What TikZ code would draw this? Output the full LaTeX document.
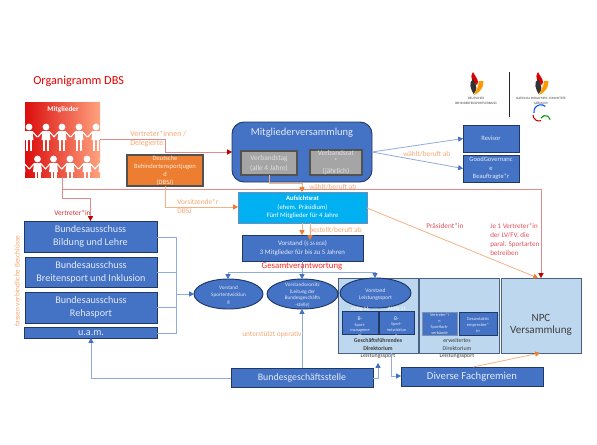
\documentclass[tikz,border=0pt]{standalone}
\usepackage{fontspec}
\setmainfont{Carlito}
\usetikzlibrary{arrows.meta,shapes.geometric,calc}
\definecolor{bl}{HTML}{4472C4}
\definecolor{dbl}{HTML}{1F3864}
\definecolor{lbl}{HTML}{BDD7EE}
\definecolor{lnb}{HTML}{8FAADC}
\definecolor{lnr}{HTML}{E48A8A}
\definecolor{tipr}{HTML}{C00000}
\definecolor{lno}{HTML}{F4B183}
\definecolor{tipo}{HTML}{ED7D31}
\definecolor{txo}{HTML}{F4A671}
\definecolor{txr}{HTML}{E0505A}
\definecolor{txw}{HTML}{E3EAF7}
\definecolor{gry}{HTML}{A5A5A5}
\definecolor{dgry}{HTML}{525252}
\definecolor{cya}{HTML}{00B0F0}
\definecolor{ora}{HTML}{ED7D31}
\newcommand{\fsz}[2]{\fontsize{#1}{#2}\selectfont}
\newcommand{\bxn}[7]{% style,name,x0,y0,x1,y1,text
  \pgfmathsetmacro{\cxx}{(#3+#5)/2}\pgfmathsetmacro{\cyy}{(#4+#6)/2}
  \pgfmathsetmacro{\wdd}{(#5-#3)*0.75}\pgfmathsetmacro{\htt}{(#6-#4)*0.75}
  \node[#1,minimum width=\wdd pt,minimum height=\htt pt] (#2) at (\cxx,\cyy) {#7};}
\newcommand{\txn}[5]{% style,name,x,y,text
  \node[inner sep=0pt,align=center,text=txw,#1] (#2) at (#3,#4) {#5};}
\newcommand{\doll}[3]{% x, y of head, leg bottom
  \fill[white] (#1,#2) circle (3.4);
  \fill[white] (#1-3.5,#2+4) -- (#1+3.5,#2+4) -- (#1+4.5,#2+13) -- (#1-4.5,#2+13) -- cycle;
  \fill[white] (#1-3,#2+13) rectangle (#1-0.9,#3);
  \fill[white] (#1+0.9,#2+13) rectangle (#1+3,#3);
  \draw[white,line width=0.9pt] (#1-3,#2+4.5) -- (#1-8.3,#2+10);
  \draw[white,line width=0.9pt] (#1+3,#2+4.5) -- (#1+8.3,#2+10);}
\newcommand{\flame}[2]{% x,y at centre
  \fill[red!85!black] (#1-3,#2-12) .. controls (#1-7,#2-5) and (#1-3,#2-3) .. (#1+1,#2+1) .. controls (#1+4,#2-3) and (#1+0,#2-6) .. (#1-3,#2-12) -- cycle;
  \fill[black!80] (#1-3,#2-5) .. controls (#1-8,#2-1) and (#1-5,#2+5) .. (#1-2.5,#2+10) .. controls (#1+1,#2+6) and (#1+2,#2+3) .. (#1-3,#2-5) -- cycle;
  \fill[orange!80!yellow] (#1+7.5,#2-3) .. controls (#1+8,#2+4) and (#1+3,#2+9) .. (#1-2,#2+11) .. controls (#1-0,#2+7) and (#1+3,#2+1) .. (#1+3,#2-3) .. controls (#1+4,#2-3) and (#1+6,#2-3) .. (#1+7.5,#2-3) -- cycle;}
\tikzset{
 x=0.75pt,y=-0.75pt,
 bb/.style={draw=dbl,fill=bl,line width=0.7pt,inner sep=0pt,outer sep=0pt,align=center,text=txw},
 bbl/.style={bb,font=\fsz{7.6}{9.75}},
 bbs/.style={bb,font=\fsz{4.9}{6.2}},
 gr/.style={draw=dgry,fill=gry,line width=0.8pt,inner sep=0pt,outer sep=0pt,align=center,text=white!88!black,font=\fsz{5.5}{7.5}},
 ell/.style={ellipse,bb},
 tiny/.style={font=\fsz{3.2}{4.1}},
 pan/.style={draw=dbl!80,fill=lbl,line width=0.7pt,inner sep=0pt,outer sep=0pt},
 lbo/.style={inner sep=0pt,text=txo,font=\fsz{5.5}{6.7},align=left},
 lbr/.style={inner sep=0pt,text=txr,font=\fsz{5.5}{6.7},align=left},
 dk/.style={inner sep=0pt,text=black!75,font=\fsz{4.4}{5.7},align=center},
 cb/.style={draw=lnb,line width=0.6pt,-{Triangle[length=3.6pt,width=3.8pt,color=bl]}},
 cbn/.style={draw=lnb,line width=0.6pt},
 cr/.style={draw=lnr,line width=0.6pt,-{Triangle[length=3.6pt,width=3.8pt,color=tipr]}},
 co/.style={draw=lno,line width=0.6pt,-{Triangle[length=3.6pt,width=3.8pt,color=tipo]}},
}
\begin{document}
\begin{tikzpicture}
\useasboundingbox (0,0) rectangle (597,444);
% title
\node[inner sep=0pt,anchor=west,text=red!90!black,font=\fsz{9.2}{12}] (title) at (33,81) {Organigramm DBS};
% logos
\flame{476}{84}\flame{541}{84}
\node[inner sep=0pt,text=black!75,font=\fsz{2.5}{3.4},align=center] (logoa) at (476,101) {DEUTSCHER\\BEHINDERTENSPORTVERBAND};
\node[inner sep=0pt,text=black!75,font=\fsz{2.5}{3.4},align=center] (logob) at (541,101) {NATIONAL PARALYMPIC COMMITTEE\\GERMANY};
\draw[black!85,line width=0.7pt] (509.5,72) -- (509.5,117);
\draw[red!80!black,line width=0.8pt] (533,115) arc (180:70:6);
\draw[blue!70!cyan,line width=0.8pt] (534,113) arc (170:310:7);
\draw[green!60!black,line width=0.8pt] (541,118) arc (210:350:5);
% Mitglieder
\node[left color=red!85!black!95,right color=red!45!orange!50!white,inner sep=0pt,outer sep=0pt,minimum width=56.25pt,minimum height=56.25pt] (mit) at (62.5,139.5) {};
\begin{scope}
\clip (25,102) rectangle (100,177);
\foreach \xx in {29,46,62,79,96}{\doll{\xx}{127}{151}}
\foreach \xx in {21,37.5,53.5,70,87,103}{\doll{\xx}{159}{180}}
\end{scope}
\node[inner sep=0pt,text=white,font=\bfseries\fsz{5.4}{6.5}] (mitl) at (63,110) {Mitglieder};
% DBSJ
\bxn{draw=dgry,fill=ora,line width=0.8pt,inner sep=0pt,outer sep=0pt}{dbsj}{127}{155}{203}{186}{}
\txn{text=white!85!orange,font=\fsz{4.9}{6}}{dbsjt}{165}{171}{Deutsche\\Behindertensportjugen\\d\\(DBSJ)}
% MV
\bxn{bb,rounded corners=9pt}{mv}{232}{122}{372}{182}{}
\node[inner sep=0pt,text=txw,font=\fsz{7.9}{10}] (mvt) at (302,133) {Mitgliederversammlung};
\bxn{gr}{vt}{241}{151}{297}{175}{Verbandstag\\(alle 4 Jahre)}
\bxn{gr}{vr}{310}{150}{362}{175}{}
\txn{text=white!88!black,font=\fsz{5.5}{5.5}}{vrt}{336}{163}{Verbandsrat\\*\\[2.5pt](jährlich)}
% right
\bxn{bbs}{rev}{463}{125}{519}{152}{Revisor}
\bxn{bbs}{gg}{463}{155}{519}{182}{GoodGovernanc\\e\\Beauftragte*r}
% Aufsichtsrat
\bxn{draw=gry!50!bl,fill=cya,line width=0.6pt,inner sep=0pt,outer sep=0pt,align=center,text=white,font=\fsz{5}{6.4}}{ar}{238}{192}{367}{223}{\textbf{Aufsichtsrat}\\(ehem. Präsidium)\\Fünf Mitglieder für 4 Jahre}
% Vorstand
\bxn{bb,font=\fsz{5.1}{7.2}}{vs}{242}{235}{363}{261}{Vorstand ({\fsz{3.8}{7.2}§ 26 BGB})\\3 Mitglieder für bis zu 5 Jahren}
% panels
\bxn{pan}{pa}{338}{278}{418}{353}{}
\bxn{pan}{pb}{419}{278}{499}{353}{}
\bxn{pan}{npc}{501}{278}{581}{353}{}
\txn{text=black!75,font=\fsz{8.3}{8.5}}{npct}{541}{325}{NPC\\Versammlung}
% ellipses
\bxn{ell}{es}{194}{279}{263}{309}{}
\txn{font=\fsz{3.9}{5.25}}{est}{228.5}{295}{Vorstand\\Sportentwicklun\\g}
\bxn{ell}{ev}{267}{279}{338}{309}{}
\txn{font=\fsz{3.9}{5}}{evt}{302.5}{295}{Vorstandsvorsitz\\(Leitung der\\Bundesgeschäfts\\-stelle)}
\bxn{ell}{el}{340}{278}{411}{308}{}
\txn{font=\fsz{4.2}{5.25}}{elt}{375.5}{294.5}{Vorstand\\Leistungssport}
% small boxes
\bxn{bb}{s1}{342}{311}{378}{334}{}
\bxn{bb}{s2}{379}{311}{414}{334}{}
\bxn{bb,draw=gry!60!bl}{s3}{422}{312}{457}{335}{}
\bxn{bb}{s4}{459}{312}{497}{335}{}
\txn{text=white,font=\fsz{4}{5}}{aa}{360}{309}{Abtlg.11}
\txn{text=white,font=\fsz{4}{5}}{ab}{397}{309}{Abtlg.11}
\txn{tiny}{s1t}{360}{327}{\fsz{4.2}{5}B-\\\fsz{3.2}{4.1}Sport-\\manageme\\nt}
\txn{tiny}{s2t}{396.5}{327}{\fsz{4.2}{5}B-\\\fsz{3.2}{4.1}Sport-\\entwicklun\\g}
\txn{tiny,font=\fsz{3.2}{4.5}}{s3t}{439.5}{324}{Vertreter*i\\n\\Sportfach-\\verbände}
\txn{font=\fsz{3.3}{4.6}}{s4t}{478}{325}{Gesamtaktiv\\ensprecher*\\in}
\node[dk] (d1) at (378,348.5) {\textbf{Geschäftsführendes}\\\textbf{Direktorium}\\Leistungssport};
\node[dk] (d2) at (457,348.5) {erweitertes\\Direktorium\\Leistungssport};
% ausschuesse
\bxn{bbl}{b1}{24}{221}{157}{252}{Bundesausschuss\\Bildung und Lehre}
\bxn{bbl}{b2}{25}{257}{157}{287}{Bundesausschuss\\Breitensport und Inklusion}
\bxn{bbl}{b3}{25}{292}{157}{323}{Bundesausschuss\\Rehasport}
\bxn{bb}{b4}{24}{327}{157}{338}{}
\txn{font=\fsz{7.6}{9}}{b4t}{91}{333.5}{u.a.m.}
\bxn{bb,font=\fsz{7.4}{9}}{bg}{231}{368}{373}{387}{Bundesgeschäftsstelle}
\bxn{bb,font=\fsz{8}{9}}{df}{401}{367}{543}{386}{Diverse Fachgremien}
% waypoints
\coordinate (w1) at (165,139);
\coordinate (w2) at (165,152);
\coordinate (w3) at (62,189);
\coordinate (w4) at (541,189);
\coordinate (w5) at (90.5,198);
\coordinate (w6) at (165,207);
\coordinate (w7) at (269,183);
\coordinate (w8) at (302,183);
\coordinate (w9) at (176,294);
\coordinate (w10) at (302,272);
\coordinate (w11) at (91,378);
\coordinate (w12) at (378,363);
\coordinate (w13) at (391.5,376);
\coordinate (w14) at (176,237);
\coordinate (w15) at (176,333);
\coordinate (w16) at (310,223);
\coordinate (w17) at (310,240);
\coordinate (w18) at (538,278);
\coordinate (w19) at (473,367);
\coordinate (w20) at (540,353);
\coordinate (w21) at (367,208);
\coordinate (w22) at (375,278);
\coordinate (w23) at (228,279);
\coordinate (w24) at (372,152);
% connectors
\draw[cr] (mit.east |- w1) -- (w1) -- (w2) -- (mv.west |- w2);
\draw[cr] (w3 |- mit.south) -- (w3) -- (w4) -- (w4 |- npc.north);
\draw[cr] (w3 |- mit.south) -- (62,198) -- (w5) -- (w5 |- b1.north);
\draw[co] (w6 |- dbsj.south) -- (w6) -- (ar.west |- w6);
\draw[co] (w7 |- vt.south) -- (w7) -- (w8) -- (w8 |- ar.north);
\draw[cb] (w24) -- (rev.west);
\draw[cb] (w24) -- (gg.west);
\draw[co] (w21) -- (w18);
\draw[co] (w8 |- ar.south) -- (w8 |- vs.north);
\draw[co] (w16) -- (w17);
\draw[cbn] (w10 |- vs.south) -- (w10);
\draw[cbn] (w23 |- w10) -- (w22 |- w10);
\draw[cb] (w23 |- w10) -- (w23);
\draw[cb] (w10) -- (w10 |- ev.north);
\draw[cb] (w22 |- w10) -- (w22);
\draw[cbn] (b1.east |- w14) -- (w14) -- (w15) -- (b4.east |- w15);
\draw[cbn] (b2.east) -- (w14 |- b2.east);
\draw[cbn] (b3.east) -- (w14 |- b3.east);
\draw[cb] (w9) -- (es.west);
\draw[cb] (bg.west |- w11) -- (w11) -- (w11 |- b4.south);
\draw[cb] (w10 |- bg.north) -- (w10 |- ev.south);
\draw[cb] (bg.east |- w11) -- (w12 |- w11) -- (w12);
\draw[cb] (w13 |- pa.south) -- (w13) -- (df.west |- w13);
\draw[co] (w19) -- (w20);
% labels
\node[lbo,anchor=west,font=\fsz{5.9}{6.7}] (l1) at (130,138.5) {Vertreter*innen /\\Delegierte};
\node[lbo,anchor=west] (l2) at (177,206.5) {Vorsitzende*r\\DBSJ};
\node[lbo,anchor=west] (l3) at (403,154) {wählt/beruft ab};
\node[lbo,anchor=west] (l4) at (309,187) {wählt/beruft ab};
\node[lbo,anchor=west] (l5) at (309,230) {bestellt/beruft ab};
\node[lbo,anchor=west] (l6) at (242,335) {unterstützt operativ};
\node[lbo,rotate=90] (l7) at (17,281) {fassen verbindliche Beschlüsse};
\node[lbr,anchor=west,text=tipr!80!white] (l8) at (54,213) {Vertreter*in};
\node[lbr,anchor=west] (l9) at (426,226) {Präsident*in};
\node[lbr,anchor=west,font=\fsz{5.3}{6.9}] (l10) at (490,239.5) {Je 1 Vertreter*in\\der LV/FV, die\\paral. Sportarten\\betreiben};
\node[inner sep=0pt,text=red!85!white,font=\fsz{6.6}{8}] (l11) at (302,266) {Gesamtverantwortung};
\end{tikzpicture}
\end{document}
